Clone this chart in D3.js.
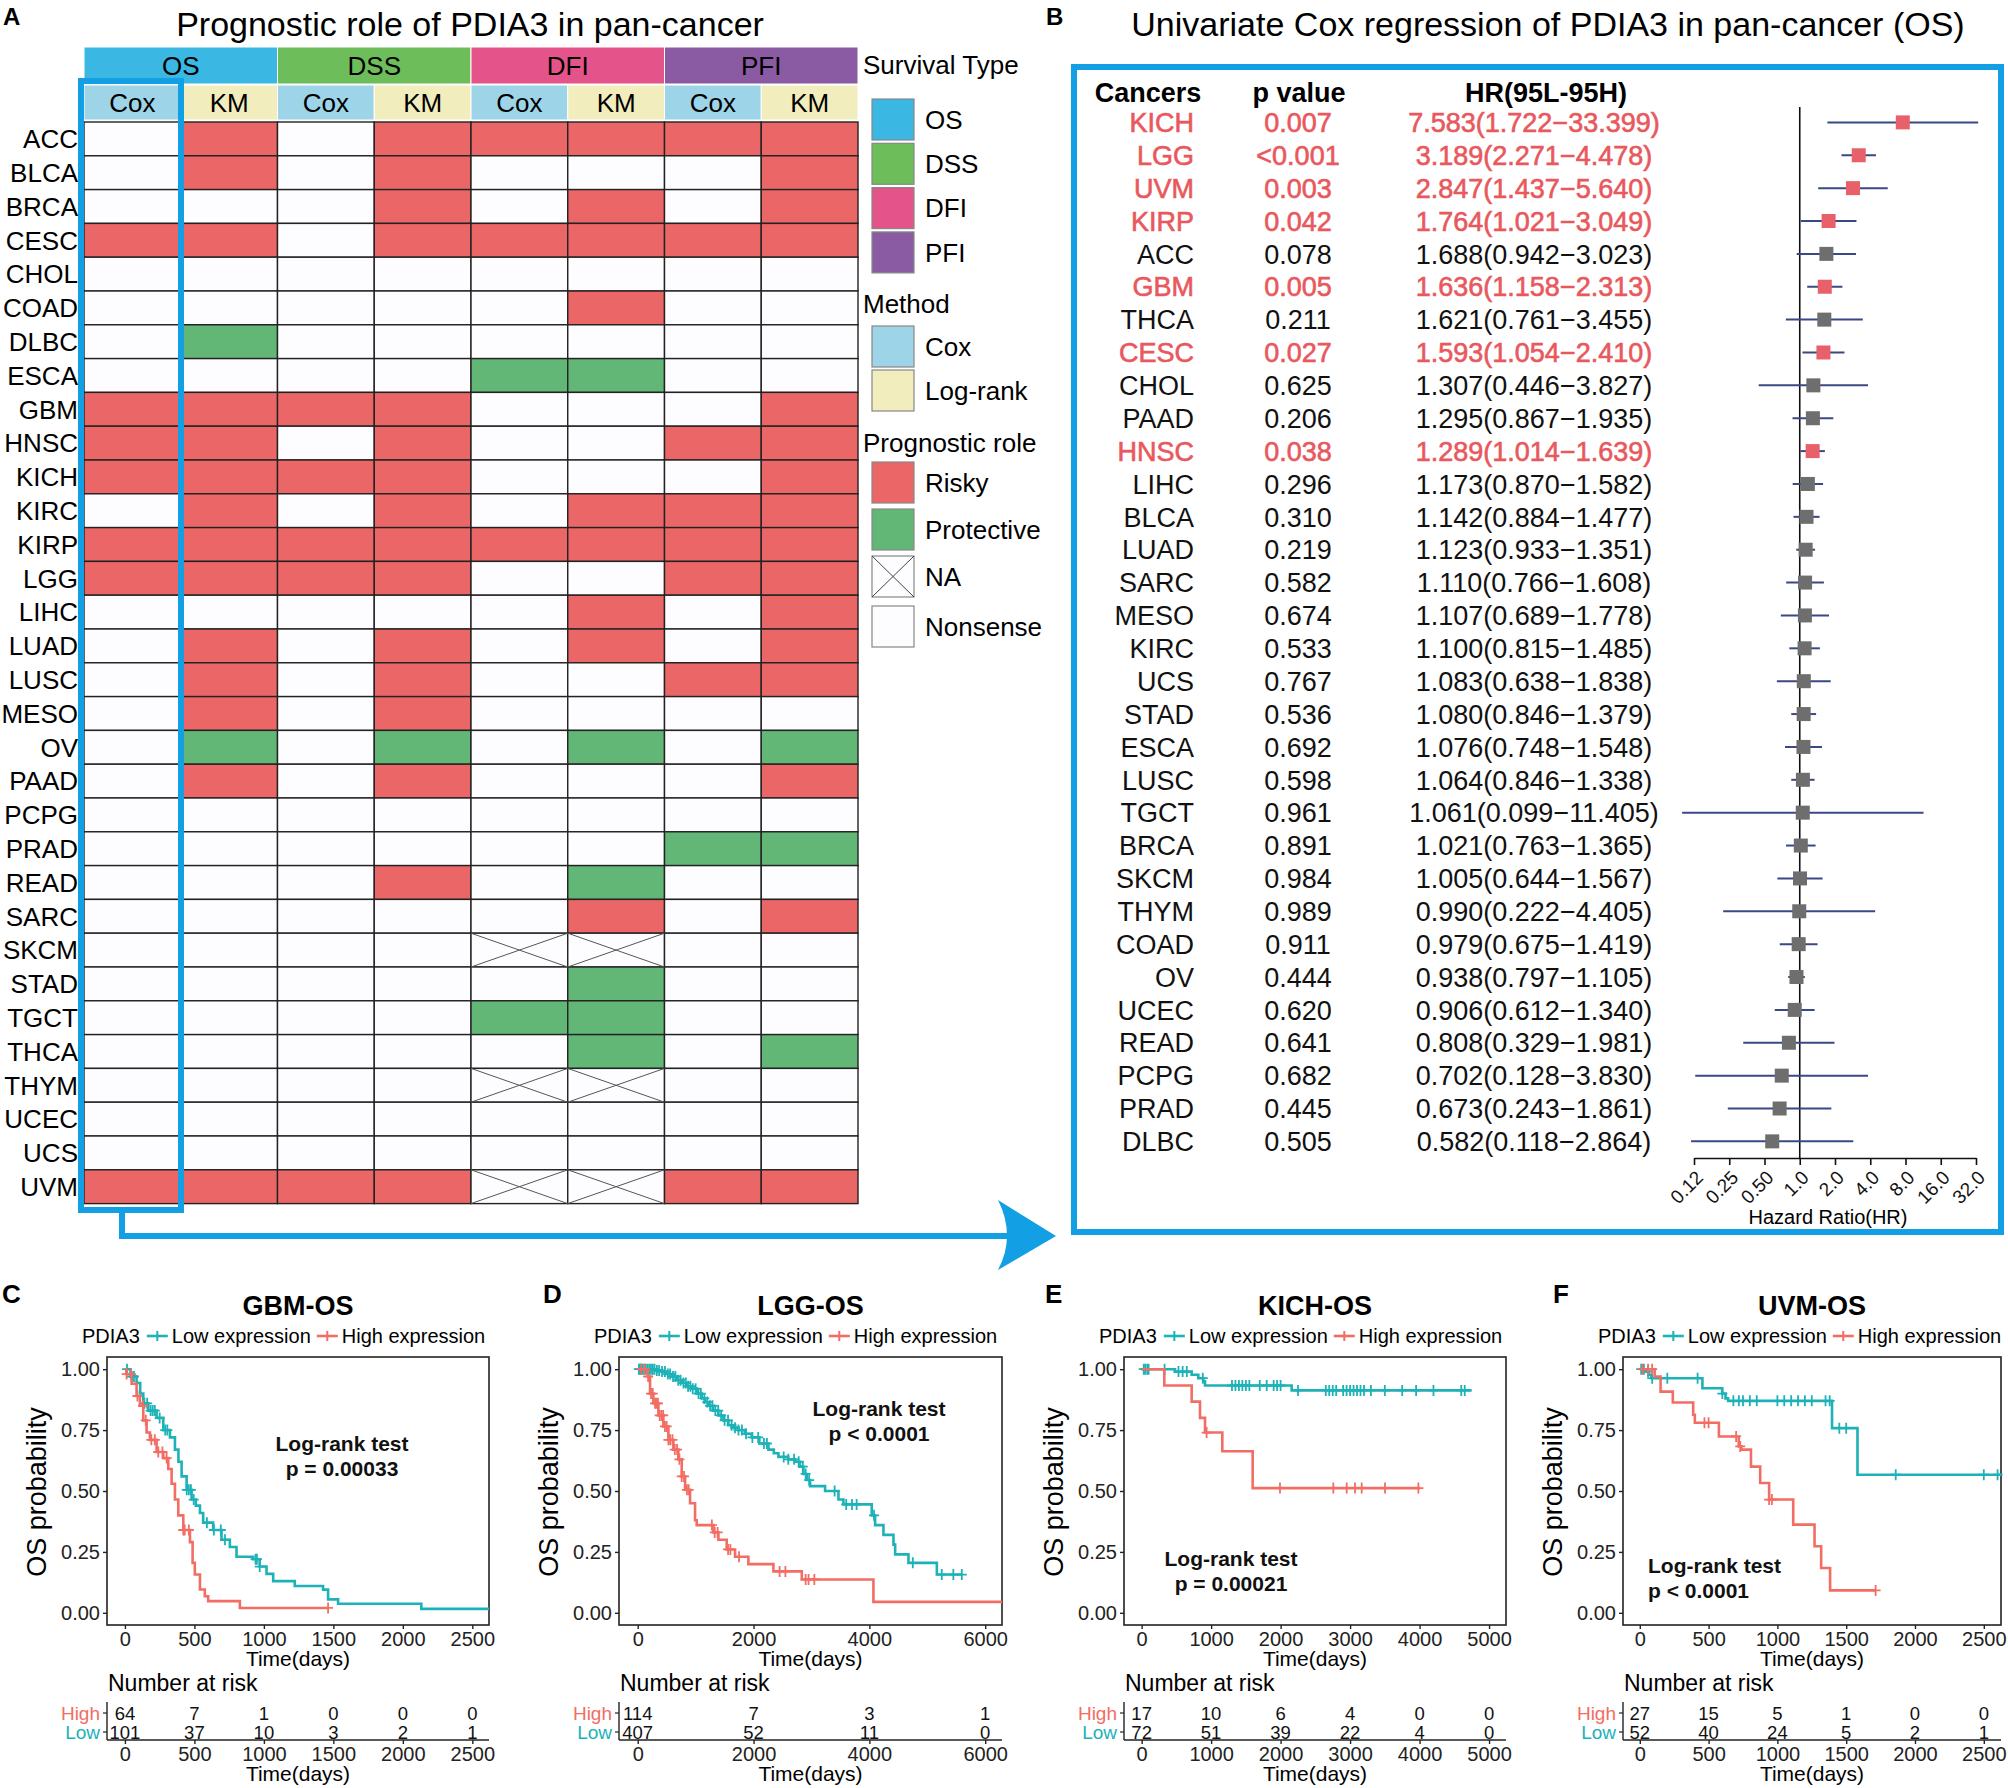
<!DOCTYPE html>
<html>
<head>
<meta charset="utf-8">
<script src="https://cdn.jsdelivr.net/npm/d3@7"></script>
<style>
  body { margin: 0; background: #fff; }
  svg { display: block; font-family: "Liberation Sans", Arial, sans-serif; }
</style>
</head>
<body>
<svg id="fig" width="2008" height="1788"></svg>
<script>
// ---------- panel A data ----------
var hmCancers = ['ACC','BLCA','BRCA','CESC','CHOL','COAD','DLBC','ESCA','GBM','HNSC','KICH','KIRC','KIRP','LGG','LIHC','LUAD',
  'LUSC','MESO','OV','PAAD','PCPG','PRAD','READ','SARC','SKCM','STAD','TGCT','THCA','THYM','UCEC','UCS','UVM']
var hmSurvival = ['OS','DSS','DFI','PFI']
var hmMethods = ['Cox','KM']
// one string per cancer, 8 columns (OS Cox, OS KM, DSS Cox, DSS KM, DFI Cox, DFI KM, PFI Cox, PFI KM)
// R = risky, P = protective, N = NA, 0 = nonsense
var hmRoles = [
  '0R0RRRRR','0R0R000R','000R0R0R','RR0RRRRR','00000000','00000R00','0P000000','0000PP00',
  'RRRR000R','RR0R00RR','RRRR000R','0R0R0RRR','RRRRRRRR','RRRR00RR','00000R0R','0R0R0R0R',
  '0R0R00RR','0R0R0000','0P0P0P0P','0R0R000R','00000000','000000PP','000R0P00','00000R0R',
  '0000NN00','00000P00','0000PP00','00000P0P','0000NN00','00000000','00000000','RRRRNNRR'
]

// ---------- panel B data ----------
var fCancers = ['KICH','LGG','UVM','KIRP','ACC','GBM','THCA','CESC','CHOL','PAAD','HNSC','LIHC','BLCA','LUAD','SARC','MESO',
  'KIRC','UCS','STAD','ESCA','LUSC','TGCT','BRCA','SKCM','THYM','COAD','OV','UCEC','READ','PCPG','PRAD','DLBC']
var fPvals = ['0.007','<0.001','0.003','0.042','0.078','0.005','0.211','0.027','0.625','0.206','0.038','0.296','0.310','0.219','0.582','0.674',
  '0.533','0.767','0.536','0.692','0.598','0.961','0.891','0.984','0.989','0.911','0.444','0.620','0.641','0.682','0.445','0.505']
var fHR = [7.583,3.189,2.847,1.764,1.688,1.636,1.621,1.593,1.307,1.295,1.289,1.173,1.142,1.123,1.110,1.107,
  1.100,1.083,1.080,1.076,1.064,1.061,1.021,1.005,0.990,0.979,0.938,0.906,0.808,0.702,0.673,0.582]
var fLow = [1.722,2.271,1.437,1.021,0.942,1.158,0.761,1.054,0.446,0.867,1.014,0.870,0.884,0.933,0.766,0.689,
  0.815,0.638,0.846,0.748,0.846,0.099,0.763,0.644,0.222,0.675,0.797,0.612,0.329,0.128,0.243,0.118]
var fHigh = [33.399,4.478,5.640,3.049,3.023,2.313,3.455,2.410,3.827,1.935,1.639,1.582,1.477,1.351,1.608,1.778,
  1.485,1.838,1.379,1.548,1.338,11.405,1.365,1.567,4.405,1.419,1.105,1.340,1.981,3.830,1.861,2.864]
var fTicks = [0.125,0.25,0.5,1,2,4,8,16,32]
var fTickLabels = ['0.12','0.25','0.50','1.0','2.0','4.0','8.0','16.0','32.0']

// ---------- panels C-F data: [time, survival] steps, end time, censor times, numbers at risk ----------
var gbmLow = [[0,1],[40,0.97],[84,0.943],[110,0.90],[132,0.86],[168,0.83],[228,0.80],[276,0.75],[324,0.72],[360,0.67],[385,0.62],
  [408,0.56],[444,0.505],[480,0.465],[510,0.44],[540,0.41],[563,0.37],[635,0.34],[695,0.30],[755,0.27],[803,0.23],[923,0.22],
  [970,0.19],[1019,0.16],[1067,0.13],[1222,0.11],[1426,0.095],[1462,0.055],[1534,0.037],[2133,0.016]]
var gbmHigh = [[0,1],[10,0.98],[48,0.94],[84,0.89],[108,0.85],[132,0.79],[156,0.74],[180,0.71],[228,0.66],[276,0.635],[312,0.59],
  [336,0.53],[360,0.465],[384,0.40],[420,0.34],[468,0.29],[487,0.205],[503,0.157],[540,0.096],[575,0.068],[599,0.048],[827,0.02]]
var gbmEnd = [2620, 1462]
var gbmLowCens = [15,50,65,140,160,185,200,215,250,290,305,445,460,475,495,590,640,690,720,940,950,970]
var gbmHighCens = [12,45,90,130,150,190,215,240,270,300,420,430,460,1462]
var gbmTimes = [0,500,1000,1500,2000,2500]
var gbmRiskHigh = [64,7,1,0,0,0]
var gbmRiskLow = [101,37,10,3,2,1]

var lggLow = [[0,1],[300,0.995],[415,0.99],[500,0.98],[587,0.97],[680,0.955],[760,0.943],[850,0.93],[933,0.92],[1020,0.90],
  [1105,0.88],[1160,0.865],[1220,0.85],[1300,0.83],[1393,0.81],[1480,0.79],[1566,0.77],[1650,0.76],[1738,0.75],[1850,0.735],
  [1969,0.72],[2100,0.695],[2257,0.67],[2350,0.655],[2430,0.64],[2600,0.63],[2717,0.62],[2800,0.60],[2861,0.57],[2920,0.545],
  [2976,0.52],[3235,0.50],[3466,0.465],[3552,0.445],[4041,0.40],[4099,0.36],[4243,0.32],[4416,0.28],[4445,0.24],[4675,0.205],[5165,0.157]]
var lggHigh = [[0,1],[173,0.97],[213,0.90],[270,0.86],[357,0.81],[443,0.765],[530,0.71],[616,0.67],[702,0.63],[760,0.56],
  [818,0.505],[904,0.45],[990,0.38],[1019,0.36],[1307,0.33],[1393,0.30],[1537,0.26],[1681,0.23],[1911,0.20],[2343,0.17],[2833,0.137],[4070,0.045]]
var lggEnd = [5596, 6290]
var lggLowCens = [20,40,60,80,110,140,170,200,230,260,290,330,370,420,470,520,560,610,650,700,740,790,830,870,910,950,1000,1050,
  1090,1150,1200,1250,1290,1340,1390,1440,1500,1560,1620,1680,1740,1800,1870,1980,2080,2180,2230,2520,2600,2700,2780,2850,
  2900,2960,3400,3600,3700,3780,4080,4750,5250,5450,5596]
var lggHighCens = [60,120,180,230,260,300,320,350,380,410,440,470,500,530,560,600,640,680,720,760,800,850,880,1280,1330,1380,
  1560,1600,1750,2450,2550,2900,2950,3050]
var lggTimes = [0,2000,4000,6000]
var lggRiskHigh = [114,7,3,1]
var lggRiskLow = [407,52,11,0]

var kichLow = [[0,1],[480,0.99],[720,0.977],[816,0.963],[888,0.95],[912,0.933],[2159,0.913]]
var kichHigh = [[0,1],[326,0.933],[720,0.867],[840,0.80],[912,0.74],[1161,0.663],[1598,0.512]]
var kichEnd = [4750, 4006]
var kichLowCens = [30,50,80,100,330,530,590,650,880,1300,1350,1400,1450,1500,1550,1700,1800,1900,1950,2000,2250,2650,2700,
  2750,2800,2900,2950,3000,3050,3100,3150,3200,3300,3500,3750,3950,4200,4600,4650]
var kichHighCens = [935,1991,2759,2951,3071,3167,3503,3983]
var kichTimes = [0,1000,2000,3000,4000,5000]
var kichRiskHigh = [17,10,6,4,0,0]
var kichRiskLow = [72,51,39,22,4,0]

var uvmLow = [[0,1],[48,0.99],[65,0.977],[84,0.963],[455,0.922],[599,0.90],[623,0.88],[642,0.87],[1397,0.758],[1582,0.567]]
var uvmHigh = [[0,1],[108,0.97],[151,0.908],[240,0.863],[388,0.813],[400,0.78],[575,0.724],[719,0.683],[738,0.67],[808,0.60],
  [875,0.533],[940,0.465],[1115,0.362],[1270,0.273],[1318,0.184],[1383,0.092]]
var uvmEnd = [2625, 1714]
var uvmLowCens = [10,30,60,90,200,420,600,680,720,750,800,850,1000,1050,1100,1150,1200,1250,1350,1380,1450,1500,1860,2500,2600]
var uvmHighCens = [20,60,90,470,500,700,730,940,960,1714]
var uvmTimes = [0,500,1000,1500,2000,2500]
var uvmRiskHigh = [27,15,5,1,0,0]
var uvmRiskLow = [52,40,24,5,2,1]

// ---------- styling ----------
var blue = '#129fe4'
var survColor = { OS: '#3bb7e3', DSS: '#6dbd5a', DFI: '#e4548a', PFI: '#8a5aa3' }
var methodColor = { Cox: '#9dd4e8', KM: '#f2edbc' }
var roleColor = { R: '#eb6767', P: '#62b777', N: '#fdfdff', '0': '#fdfdff' }
var redText = '#e8585d'
var lowCol = '#1cb2b7', highCol = '#f26d63'
var font = '"Liberation Sans", Arial, sans-serif'

var svg = d3.select('#fig')

// ======================= A : heatmap =======================
var colX = d3.scaleBand().domain(d3.range(8)).range([84, 858])
var grpX = d3.scaleBand().domain(hmSurvival).range([84, 858])
var rowY = d3.scaleBand().domain(hmCancers).range([122, 122 + 32 * 33.8])

svg.append('text').attr('x', 3).attr('y', 25).attr('font-size', 24).attr('font-weight', 'bold').text('A')
svg.append('text').attr('x', 470).attr('y', 36).attr('font-size', 34).attr('text-anchor', 'middle')
  .text('Prognostic role of PDIA3 in pan-cancer')

var hm = svg.append('g')
hm.selectAll('.grp').data(hmSurvival).enter().append('rect')
  .attr('x', d => grpX(d)).attr('y', 47).attr('width', grpX.bandwidth()).attr('height', 37)
  .attr('fill', d => survColor[d]).attr('stroke', '#fff').attr('stroke-width', 1)
hm.selectAll('.grpt').data(hmSurvival).enter().append('text')
  .attr('x', d => grpX(d) + grpX.bandwidth() / 2).attr('y', 66).attr('dy', '0.36em')
  .attr('text-anchor', 'middle').attr('font-size', 26).text(d => d)

var cols = d3.range(8)
hm.selectAll('.meth').data(cols).enter().append('rect')
  .attr('x', d => colX(d)).attr('y', 85).attr('width', colX.bandwidth()).attr('height', 35)
  .attr('fill', d => methodColor[hmMethods[d % 2]]).attr('stroke', '#fff').attr('stroke-width', 1)
hm.selectAll('.metht').data(cols).enter().append('text')
  .attr('x', d => colX(d) + colX.bandwidth() / 2).attr('y', 102.5).attr('dy', '0.36em')
  .attr('text-anchor', 'middle').attr('font-size', 26).text(d => hmMethods[d % 2])

var cells = []
hmCancers.forEach((c, i) => {
  hmRoles[i].split('').forEach((r, j) => cells.push({ cancer: c, col: j, role: r }))
})
hm.selectAll('.cell').data(cells).enter().append('rect')
  .attr('x', d => colX(d.col)).attr('y', d => rowY(d.cancer))
  .attr('width', colX.bandwidth()).attr('height', rowY.bandwidth())
  .attr('fill', d => roleColor[d.role]).attr('stroke', '#222').attr('stroke-width', 1.4)
var naCells = cells.filter(d => d.role === 'N')
hm.selectAll('.na1').data(naCells).enter().append('path')
  .attr('d', d => {
    var x0 = colX(d.col), y0 = rowY(d.cancer), w = colX.bandwidth(), h = rowY.bandwidth()
    return 'M' + x0 + ',' + y0 + 'L' + (x0 + w) + ',' + (y0 + h) + 'M' + (x0 + w) + ',' + y0 + 'L' + x0 + ',' + (y0 + h)
  })
  .attr('stroke', '#555').attr('stroke-width', 1).attr('fill', 'none')

hm.selectAll('.rowlab').data(hmCancers).enter().append('text')
  .attr('x', 78).attr('y', d => rowY(d) + rowY.bandwidth() / 2).attr('dy', '0.36em')
  .attr('text-anchor', 'end').attr('font-size', 26).text(d => d)

// highlight of the OS Cox column and arrow to panel B
svg.append('rect').attr('x', 81).attr('y', 81).attr('width', 100).attr('height', 1129)
  .attr('fill', 'none').attr('stroke', blue).attr('stroke-width', 6)
svg.append('path').attr('d', 'M122,1210V1236H1012').attr('fill', 'none').attr('stroke', blue).attr('stroke-width', 6)
svg.append('path').attr('d', 'M1056,1236L998,1200Q1016,1236 998,1270Z').attr('fill', blue)

// legend
var lg = svg.append('g')
var legendGroups = [
  { title: 'Survival Type', ty: 65, items: hmSurvival.map((d, i) => ({ label: d, fill: survColor[d], y: 99 + i * 44.3 })) },
  { title: 'Method', ty: 304, items: [{ label: 'Cox', fill: methodColor.Cox, y: 326 }, { label: 'Log-rank', fill: methodColor.KM, y: 370 }] },
  { title: 'Prognostic role', ty: 443, items: [
    { label: 'Risky', fill: roleColor.R, y: 462 }, { label: 'Protective', fill: roleColor.P, y: 509 },
    { label: 'NA', fill: '#fdfdff', y: 556, na: true }, { label: 'Nonsense', fill: '#fdfdff', y: 606 }] }
]
legendGroups.forEach(g => {
  lg.append('text').attr('x', 863).attr('y', g.ty).attr('dy', '0.36em').attr('font-size', 26).text(g.title)
  g.items.forEach(it => {
    lg.append('rect').attr('x', 872).attr('y', it.y).attr('width', 42).attr('height', 41)
      .attr('fill', it.fill).attr('stroke', '#888').attr('stroke-width', 1.2)
    if (it.na) {
      lg.append('path').attr('d', 'M872,' + it.y + 'L914,' + (it.y + 41) + 'M914,' + it.y + 'L872,' + (it.y + 41))
        .attr('stroke', '#444').attr('stroke-width', 1)
    }
    lg.append('text').attr('x', 925).attr('y', it.y + 20.5).attr('dy', '0.36em').attr('font-size', 26).text(it.label)
  })
})

// ======================= B : forest plot =======================
var fx = d3.scaleLog().base(2).domain([0.125, 32]).range([1694, 1976])
var fy = d3.scalePoint().domain(fCancers).range([122.4, 122.4 + 31 * 32.87])
var isSig = fPvals.map(p => p.charAt(0) === '<' || +p < 0.05)

svg.append('text').attr('x', 1046).attr('y', 25).attr('font-size', 24).attr('font-weight', 'bold').text('B')
svg.append('text').attr('x', 1548).attr('y', 36).attr('font-size', 34).attr('text-anchor', 'middle')
  .text('Univariate Cox regression of PDIA3 in pan-cancer (OS)')
svg.append('rect').attr('x', 1074).attr('y', 67).attr('width', 927).attr('height', 1165)
  .attr('fill', 'none').attr('stroke', blue).attr('stroke-width', 6)

var fg = svg.append('g')
var heads = [['Cancers', 1148], ['p value', 1299], ['HR(95L-95H)', 1546]]
heads.forEach(h => {
  fg.append('text').attr('x', h[1]).attr('y', 92).attr('dy', '0.36em').attr('text-anchor', 'middle')
    .attr('font-size', 27).attr('font-weight', 'bold').text(h[0])
})
var f3 = d3.format('.3f')
var fRows = fCancers.map((c, i) => ({
  cancer: c, p: fPvals[i], hr: fHR[i], lo: fLow[i], hi: fHigh[i], sig: isSig[i],
  label: f3(fHR[i]) + '(' + f3(fLow[i]) + '\u2212' + f3(fHigh[i]) + ')'
}))
function rowText(cls, x, anchor, fn) {
  fg.selectAll('.' + cls).data(fRows).enter().append('text')
    .attr('x', x).attr('y', d => fy(d.cancer)).attr('dy', '0.36em').attr('text-anchor', anchor)
    .attr('font-size', 27).attr('fill', d => d.sig ? redText : '#111')
    .attr('stroke', d => d.sig ? redText : 'none').attr('stroke-width', 0.6)
    .text(fn)
}
rowText('fc', 1194, 'end', d => d.cancer)
rowText('fp', 1298, 'middle', d => d.p)
rowText('fh', 1534, 'middle', d => d.label)

fg.append('line').attr('x1', fx(1)).attr('x2', fx(1)).attr('y1', 107).attr('y2', 1158)
  .attr('stroke', '#111').attr('stroke-width', 1.6)
fg.selectAll('.ci').data(fRows).enter().append('line')
  .attr('x1', d => fx(d.lo)).attr('x2', d => fx(d.hi))
  .attr('y1', d => fy(d.cancer)).attr('y2', d => fy(d.cancer))
  .attr('stroke', '#3a4885').attr('stroke-width', 2)
fg.selectAll('.sq').data(fRows).enter().append('rect')
  .attr('x', d => fx(d.hr) - 7).attr('y', d => fy(d.cancer) - 7).attr('width', 14).attr('height', 14)
  .attr('fill', d => d.sig ? '#e8616a' : '#6e6e6e')

var fAxis = fg.append('g').attr('transform', 'translate(0,1158)')
  .call(d3.axisBottom(fx).tickValues(fTicks).tickFormat((d, i) => fTickLabels[i]).tickSize(7).tickSizeOuter(0))
fAxis.select('.domain').attr('stroke', '#111').attr('stroke-width', 1.6)
fAxis.selectAll('line').attr('stroke', '#111').attr('stroke-width', 1.6)
fAxis.selectAll('text').attr('x', 0).attr('y', 0).attr('dy', '0.36em')
  .attr('transform', 'translate(5,16) rotate(-45)').attr('text-anchor', 'end')
  .attr('font-size', 19).attr('font-family', font).attr('fill', '#111')
fg.append('text').attr('x', 1828).attr('y', 1217).attr('dy', '0.36em').attr('text-anchor', 'middle')
  .attr('font-size', 20).text('Hazard Ratio(HR)')

// ======================= C-F : Kaplan-Meier =======================
var kmPanels = [
  { letter: 'C', lx: 2, title: 'GBM-OS', x0: 107, x1: 489, dom: [-129, 2620], low: gbmLow, high: gbmHigh, end: gbmEnd,
    lowCens: gbmLowCens, highCens: gbmHighCens, times: gbmTimes, riskHigh: gbmRiskHigh, riskLow: gbmRiskLow,
    test: ['Log-rank test', 'p = 0.00033'], tx: 235, ty: 1443, anchor: 'middle' },
  { letter: 'D', lx: 543, title: 'LGG-OS', x0: 619, x1: 1002, dom: [-323, 6290], low: lggLow, high: lggHigh, end: lggEnd,
    lowCens: lggLowCens, highCens: lggHighCens, times: lggTimes, riskHigh: lggRiskHigh, riskLow: lggRiskLow,
    test: ['Log-rank test', 'p < 0.0001'], tx: 260, ty: 1408, anchor: 'middle' },
  { letter: 'E', lx: 1045, title: 'KICH-OS', x0: 1124, x1: 1506, dom: [-254, 5244], low: kichLow, high: kichHigh, end: kichEnd,
    lowCens: kichLowCens, highCens: kichHighCens, times: kichTimes, riskHigh: kichRiskHigh, riskLow: kichRiskLow,
    test: ['Log-rank test', 'p = 0.00021'], tx: 107, ty: 1558, anchor: 'middle' },
  { letter: 'F', lx: 1553, title: 'UVM-OS', x0: 1623, x1: 2001, dom: [-122, 2625], low: uvmLow, high: uvmHigh, end: uvmEnd,
    lowCens: uvmLowCens, highCens: uvmHighCens, times: uvmTimes, riskHigh: uvmRiskHigh, riskLow: uvmRiskLow,
    test: ['Log-rank test', 'p < 0.0001'], tx: 25, ty: 1565, anchor: 'start' }
]
var kmTop = 1357, kmBottom = 1625
var ky = d3.scaleLinear().domain([-0.05, 1.05]).range([kmBottom, kmTop])
var dayFmt = d3.format('d')

function survAt(steps, t) {
  var s = steps[0][1]
  steps.forEach(p => { if (p[0] <= t) s = p[1] })
  return s
}

kmPanels.forEach(p => {
  var g = svg.append('g')
  var kx = d3.scaleLinear().domain(p.dom).range([p.x0, p.x1])
  var mid = (p.x0 + p.x1) / 2

  g.append('text').attr('x', p.lx).attr('y', 1303).attr('font-size', 26).attr('font-weight', 'bold').text(p.letter)
  g.append('text').attr('x', mid).attr('y', 1315).attr('text-anchor', 'middle')
    .attr('font-size', 27).attr('font-weight', 'bold').text(p.title)

  // legend, kept inside the page width
  var lgd = g.append('g')
  var lx = 0, ly = 1336
  var t1 = lgd.append('text').attr('x', lx).attr('y', ly).attr('dy', '0.36em').attr('font-size', 20).text('PDIA3')
  lx += t1.node().getComputedTextLength() + 7
  ;[['Low expression', lowCol], ['High expression', highCol]].forEach((item, k) => {
    lgd.append('line').attr('x1', lx).attr('x2', lx + 21).attr('y1', ly).attr('y2', ly)
      .attr('stroke', item[1]).attr('stroke-width', 2.6)
    lgd.append('path').attr('d', 'M' + (lx + 10.5) + ',' + (ly - 5) + 'v10').attr('stroke', item[1]).attr('stroke-width', 2)
    lx += 25
    var tt = lgd.append('text').attr('x', lx).attr('y', ly).attr('dy', '0.36em').attr('font-size', 20).text(item[0])
    lx += tt.node().getComputedTextLength() + (k === 0 ? 6 : 0)
  })
  var lstart = Math.min(p.x0 - 25, 2004 - lx)
  lgd.attr('transform', 'translate(' + lstart + ',0)')

  // plot frame and axes
  g.append('rect').attr('x', p.x0).attr('y', kmTop).attr('width', p.x1 - p.x0).attr('height', kmBottom - kmTop)
    .attr('fill', 'none').attr('stroke', '#222').attr('stroke-width', 1.6)
  var ya = g.append('g').attr('transform', 'translate(' + p.x0 + ',0)')
    .call(d3.axisLeft(ky).tickValues([0, 0.25, 0.5, 0.75, 1]).tickFormat(d3.format('.2f')).tickSize(4))
  var xa = g.append('g').attr('transform', 'translate(0,' + kmBottom + ')')
    .call(d3.axisBottom(kx).tickValues(p.times).tickFormat(dayFmt).tickSize(4))
  ;[ya, xa].forEach(a => {
    a.select('.domain').remove()
    a.selectAll('line').attr('stroke', '#222').attr('stroke-width', 1.4)
    a.selectAll('text').attr('font-size', 20).attr('fill', '#222').attr('font-family', font)
  })
  g.append('text').attr('x', mid).attr('y', 1666).attr('text-anchor', 'middle').attr('font-size', 21).text('Time(days)')
  g.append('text').attr('transform', 'translate(' + (p.x0 - 71) + ',1492) rotate(-90)')
    .attr('text-anchor', 'middle').attr('dy', '0.36em').attr('font-size', 27).text('OS probability')

  // curves
  var line = d3.line().x(d => kx(d[0])).y(d => ky(d[1])).curve(d3.curveStepAfter)
  var groups = [
    { steps: p.low, end: p.end[0], cens: p.lowCens, color: lowCol },
    { steps: p.high, end: p.end[1], cens: p.highCens, color: highCol }
  ]
  groups.forEach(s => {
    var pts = s.steps.concat([[s.end, s.steps[s.steps.length - 1][1]]])
    g.append('path').datum(pts).attr('d', line).attr('fill', 'none')
      .attr('stroke', s.color).attr('stroke-width', 2.6)
    g.selectAll(null).data(s.cens).enter().append('path')
      .attr('d', t => {
        var cx = kx(t), cy = ky(survAt(s.steps, t))
        return 'M' + (cx - 5) + ',' + cy + 'h10M' + cx + ',' + (cy - 5.5) + 'v11'
      })
      .attr('stroke', s.color).attr('stroke-width', 1.8)
  })

  // log-rank annotation
  p.test.forEach((t, i) => {
    g.append('text').attr('x', p.x0 + p.tx).attr('y', p.ty + i * 25).attr('dy', '0.36em')
      .attr('text-anchor', p.anchor).attr('font-size', 21).attr('font-weight', 'bold').attr('fill', '#111').text(t)
  })

  // risk table
  g.append('text').attr('x', p.x0 + 1).attr('y', 1683).attr('dy', '0.36em').attr('font-size', 23).text('Number at risk')
  var riskRows = [{ label: 'High', vals: p.riskHigh, color: highCol, y: 1713 }, { label: 'Low', vals: p.riskLow, color: lowCol, y: 1732 }]
  g.append('line').attr('x1', p.x0).attr('x2', p.x0).attr('y1', 1702).attr('y2', 1740).attr('stroke', '#222').attr('stroke-width', 1.4)
  riskRows.forEach(r => {
    g.append('line').attr('x1', p.x0 - 4).attr('x2', p.x0).attr('y1', r.y).attr('y2', r.y).attr('stroke', '#222').attr('stroke-width', 1.2)
    g.append('text').attr('x', p.x0 - 7).attr('y', r.y).attr('dy', '0.36em').attr('text-anchor', 'end')
      .attr('font-size', 19).attr('fill', r.color).text(r.label)
    g.selectAll(null).data(r.vals).enter().append('text')
      .attr('x', (d, i) => kx(p.times[i])).attr('y', r.y).attr('dy', '0.36em').attr('text-anchor', 'middle')
      .attr('font-size', 18.5).attr('fill', '#111').text(d => d)
  })
  var ra = g.append('g').attr('transform', 'translate(0,1740)')
    .call(d3.axisBottom(kx).tickValues(p.times).tickFormat(dayFmt).tickSize(4).tickSizeOuter(0))
  ra.select('.domain').attr('stroke', '#222').attr('stroke-width', 1.6).attr('d', 'M' + p.x0 + ',0H' + p.x1)
  ra.selectAll('line').attr('stroke', '#222').attr('stroke-width', 1.4)
  ra.selectAll('text').attr('font-size', 20).attr('fill', '#222').attr('font-family', font)
  g.append('text').attr('x', mid).attr('y', 1781).attr('text-anchor', 'middle').attr('font-size', 21).text('Time(days)')
})
</script>
</body>
</html>
